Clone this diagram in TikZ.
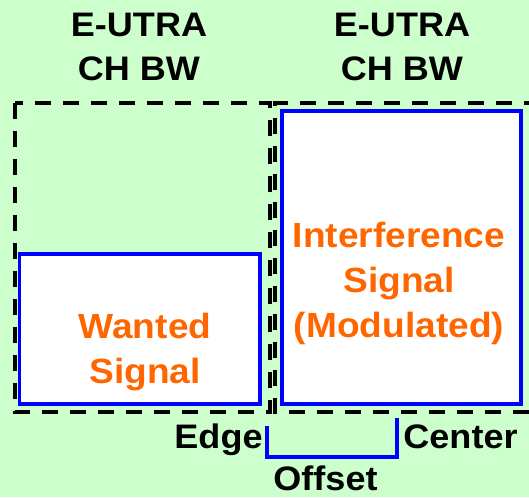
\documentclass[tikz,border=0pt]{standalone}
\usepackage{fontspec}
\newfontfamily\labfont[FakeStretch=1.06]{Liberation Sans}
\definecolor{bggreen}{RGB}{204,255,204}
\definecolor{sigblue}{RGB}{0,0,255}
\definecolor{sigorange}{RGB}{255,102,0}
\tikzset{
  bw/.style={draw=black, line width=3.4pt, dash pattern=on 16pt off 12pt},
  sigbox/.style={draw=sigblue, fill=white, line width=3.6pt, inner sep=0pt},
  blk/.style={font=\labfont\bfseries\fontsize{34}{40}\selectfont, text=black, anchor=base, inner sep=0pt},
  org/.style={font=\labfont\bfseries\fontsize{35}{42}\selectfont, text=sigorange, anchor=base, inner sep=0pt}
}
\begin{document}
\begin{tikzpicture}[x=1pt, y=-1pt]
  % canvas
  \fill[bggreen] (0,0) rectangle (529,497);
  \useasboundingbox (0,0) rectangle (529,497);

  % signal blocks
  \node[sigbox, minimum width=240.5pt, minimum height=150pt] (wanted) at (139.75,329) {};
  \node[sigbox, minimum width=239pt, minimum height=293pt] (interf) at (401.5,257.5) {};

  % channel bandwidth outlines
  \draw[bw] (15,103) rectangle (270,412);
  \draw[bw] (540,103) -- (275,103) -- (275,412) -- (540,412);

  % channel labels
  \node[blk] (bwlA1) at (139,37) {E-UTRA};
  \node[blk] (bwlA2) at (139,81) {CH BW};
  \node[blk] (bwlB1) at (402,37) {E-UTRA};
  \node[blk] (bwlB2) at (402,81) {CH BW};

  % signal labels
  \node[org] (wl1) at (145,338) {Wanted};
  \node[org] (wl2) at (145,383) {Signal};
  \node[org] (il1) at (399,247) {Interference};
  \node[org] (il2) at (399,292) {Signal};
  \node[org] (il3) at (399,337) {(Modulated)};

  % offset bracket
  \coordinate (ofsL) at (267,426);
  \coordinate (ofsR) at (397,418);
  \draw[sigblue, line width=3.4pt] (ofsL) -- (267,457) -- (397,457) -- (ofsR);

  \node[blk] (edge) at (218.5,448) {Edge};
  \node[blk] (center) at (460.5,448) {Center};
  \node[blk] (offset) at (325.5,490.5) {Offset};
\end{tikzpicture}
\end{document}
